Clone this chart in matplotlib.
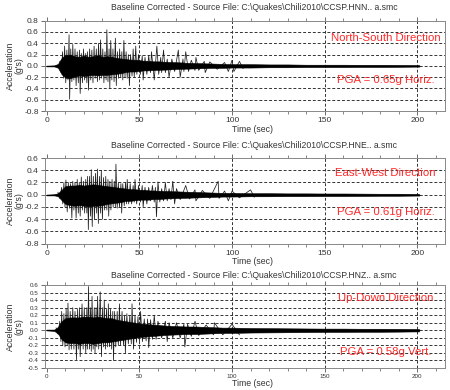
import matplotlib
matplotlib.use("Agg")
import matplotlib.pyplot as plt
import numpy as np

plt.rcParams['font.family'] = ['Liberation Sans', 'DejaVu Sans']

# ---------------- data ----------------
titles = [
    r"Baseline Corrected - Source File: C:\Quakes\Chili2010\CCSP.HNN.. a.smc",
    r"Baseline Corrected - Source File: C:\Quakes\Chili2010\CCSP.HNE.. a.smc",
    r"Baseline Corrected - Source File: C:\Quakes\Chili2010\CCSP.HNZ.. a.smc",
]
directions = ["North-South Direction", "East-West Direction", "Up-Down Direction"]
pga_labels = ["PGA = 0.65g Horiz.", "PGA = 0.61g Horiz.", "PGA = 0.58g Vert."]

# dense-core envelope sample times (s)
t_env = [0, 2, 4, 6, 8, 10, 12.5, 15, 17.5, 20, 22.5, 25, 27.5, 30, 32.5, 35, 37.5,
         40, 42.5, 45, 47.5, 50, 52.5, 55, 57.5, 60, 65, 70, 75, 80, 85, 90, 95,
         100, 110, 120, 130, 140, 150, 160, 170, 180, 190, 201]

# North-South: dense core (upper / lower) and individual peaks (time, g)
ns_upper = [0, 0.004, 0.008, 0.035, 0.14, 0.19, 0.2, 0.17, 0.16, 0.18, 0.16, 0.17, 0.19,
            0.16, 0.17, 0.16, 0.14, 0.13, 0.12, 0.11, 0.11, 0.1, 0.09, 0.09, 0.08, 0.08,
            0.07, 0.065, 0.055, 0.05, 0.045, 0.04, 0.035, 0.03, 0.03, 0.025, 0.025, 0.02,
            0.02, 0.02, 0.018, 0.018, 0.016, 0.012]
ns_lower = [0, -0.004, -0.008, -0.035, -0.15, -0.21, -0.22, -0.19, -0.17, -0.18, -0.17,
            -0.16, -0.17, -0.16, -0.16, -0.15, -0.14, -0.13, -0.11, -0.1, -0.1, -0.09,
            -0.08, -0.08, -0.075, -0.07, -0.065, -0.055, -0.05, -0.045, -0.04, -0.035,
            -0.035, -0.03, -0.03, -0.025, -0.025, -0.02, -0.02, -0.02, -0.018, -0.018,
            -0.016, -0.012]
ns_peaks = [(7, 0.08), (7.8, -0.12), (8.5, 0.25), (9, -0.22), (9.6, 0.35), (10.2, -0.3),
            (10.8, 0.28), (11.4, -0.25), (12, 0.55), (12.3, -0.59), (12.9, 0.3),
            (13.5, -0.28), (14, 0.38), (14.6, -0.25), (15.2, 0.3), (15.8, -0.35),
            (16.4, 0.25), (17, -0.3), (17.6, 0.28), (18, -0.49), (18.6, 0.22),
            (19.2, -0.3), (19.8, 0.3), (20.4, -0.25), (21, 0.22), (21.6, -0.3),
            (22, 0.25), (22.5, -0.43), (23.1, 0.3), (23.7, -0.25), (24.3, 0.28),
            (24.9, -0.3), (25.5, 0.35), (26.1, -0.22), (26.7, 0.3), (27.3, -0.28),
            (27.9, 0.4), (28.5, -0.25), (29, 0.46), (29.6, -0.22), (30.2, 0.3),
            (30.8, -0.3), (31.4, 0.25), (32, -0.25), (32.4, 0.64), (33, -0.28),
            (33.6, 0.3), (34, -0.4), (34.5, 0.45), (35.1, -0.25), (35.7, 0.3),
            (36.3, -0.28), (37, 0.49), (37.5, -0.35), (38.1, 0.25), (38.7, -0.22),
            (39.3, 0.3), (39.9, -0.2), (40.5, 0.25), (41, -0.25), (41.6, 0.45),
            (42.2, -0.2), (42.8, 0.25), (43.4, -0.22), (44, 0.2), (44.6, -0.35),
            (45.2, 0.2), (46, -0.18), (46.6, 0.3), (47.2, -0.2), (48, 0.35),
            (48.6, -0.15), (49.5, 0.2), (50.5, -0.15), (51.5, 0.18), (52, -0.25),
            (53, 0.15), (54, -0.15), (55, 0.18), (56, -0.12), (56.5, 0.25), (58, -0.25),
            (59.4, 0.35), (60.4, -0.15), (61.5, 0.15), (62, -0.12), (63, 0.28),
            (64, -0.12), (65, 0.12), (66, -0.2), (67.5, 0.12), (69, -0.1), (71, 0.28),
            (72, -0.2), (73.5, 0.12), (74, -0.1), (75, 0.25), (76.5, -0.1), (78, 0.1),
            (80, -0.08), (80.5, 0.15), (82, -0.08), (85, 0.08), (85.5, -0.12),
            (88, 0.07), (92, -0.06), (96, 0.06), (98, -0.1), (100, 0.1), (101, -0.1),
            (104, 0.08), (106, -0.05)]

# East-West
ew_upper = [0, 0.004, 0.008, 0.025, 0.08, 0.14, 0.15, 0.15, 0.16, 0.15, 0.16, 0.17, 0.16,
            0.15, 0.14, 0.13, 0.12, 0.11, 0.1, 0.09, 0.09, 0.08, 0.08, 0.07, 0.07, 0.065,
            0.06, 0.055, 0.05, 0.045, 0.04, 0.035, 0.03, 0.03, 0.025, 0.025, 0.022,
            0.022, 0.02, 0.02, 0.018, 0.016, 0.016, 0.012]
ew_lower = [0, -0.004, -0.008, -0.025, -0.09, -0.15, -0.17, -0.18, -0.17, -0.18, -0.19,
            -0.18, -0.18, -0.17, -0.15, -0.14, -0.13, -0.12, -0.1, -0.1, -0.09, -0.08,
            -0.08, -0.08, -0.07, -0.07, -0.06, -0.055, -0.05, -0.045, -0.04, -0.035,
            -0.03, -0.03, -0.025, -0.025, -0.022, -0.022, -0.02, -0.02, -0.018, -0.016,
            -0.016, -0.012]
ew_peaks = [(6, 0.04), (7, -0.06), (8, 0.12), (8.6, -0.15), (9.2, 0.2), (9.8, -0.2),
            (10.3, 0.24), (11, -0.28), (11.6, 0.2), (12.2, -0.22), (12.8, 0.18),
            (13.5, -0.38), (14, 0.22), (14.6, -0.25), (15.2, 0.2), (15.8, -0.38),
            (16.4, 0.25), (17, -0.3), (17.5, 0.2), (18, -0.35), (18.6, 0.29),
            (19.2, -0.25), (19.8, 0.22), (20.4, -0.3), (21, 0.25), (21.6, -0.3),
            (22, 0.3), (22.4, -0.57), (23, 0.3), (23.6, -0.35), (24, 0.41),
            (24.5, -0.52), (25.1, 0.3), (25.7, -0.4), (26.3, 0.35), (26.9, -0.3),
            (27.3, 0.42), (27.8, -0.47), (28.4, 0.3), (29, -0.3), (29.4, 0.4),
            (30, -0.4), (30.6, 0.28), (31.2, -0.25), (31.8, 0.3), (32.4, -0.25),
            (33, 0.25), (33.4, -0.35), (34, 0.22), (34.6, -0.25), (35.2, 0.25),
            (35.8, -0.2), (36.4, 0.22), (37, -0.2), (37.3, 0.5), (38, -0.22),
            (38.6, 0.2), (39.2, -0.2), (40, 0.18), (40.4, -0.3), (41, 0.18),
            (41.8, -0.18), (42.5, 0.2), (43, -0.15), (43.4, 0.25), (44.2, -0.15),
            (45, 0.18), (45.8, -0.15), (46.6, 0.15), (47.2, -0.12), (47.6, 0.25),
            (48.5, -0.15), (49.5, 0.15), (50.5, -0.12), (51.5, 0.15), (52, -0.2),
            (53, 0.12), (54, -0.15), (55, 0.12), (56, -0.1), (57, 0.15), (58, -0.12),
            (58.6, 0.12), (59.2, -0.36), (60, 0.21), (61, -0.12), (62, 0.1),
            (63, -0.1), (64, 0.2), (65, -0.1), (66, 0.1), (67, -0.08), (68, 0.22),
            (69, -0.15), (70, 0.1), (72, -0.08), (75, 0.15), (77, -0.07), (80, 0.08),
            (80.5, -0.1), (84, 0.07), (88, -0.06), (92.5, 0.22), (93, -0.06),
            (96, 0.06), (98, -0.1), (100, 0.06), (104, -0.05), (110, 0.08),
            (112, -0.04)]

# Up-Down
ud_upper = [0, 0.004, 0.008, 0.045, 0.12, 0.16, 0.17, 0.17, 0.17, 0.18, 0.18, 0.17, 0.18,
            0.17, 0.16, 0.16, 0.14, 0.13, 0.12, 0.11, 0.1, 0.09, 0.085, 0.08, 0.075,
            0.07, 0.06, 0.055, 0.05, 0.05, 0.045, 0.04, 0.035, 0.035, 0.03, 0.028,
            0.026, 0.024, 0.022, 0.022, 0.02, 0.02, 0.018, 0.015]
ud_lower = [0, -0.004, -0.008, -0.045, -0.12, -0.16, -0.17, -0.17, -0.18, -0.17, -0.17,
            -0.18, -0.17, -0.16, -0.16, -0.15, -0.14, -0.13, -0.12, -0.11, -0.1, -0.09,
            -0.085, -0.08, -0.075, -0.07, -0.06, -0.055, -0.05, -0.05, -0.045, -0.04,
            -0.035, -0.035, -0.03, -0.028, -0.026, -0.024, -0.022, -0.022, -0.02, -0.02,
            -0.018, -0.015]
ud_peaks = [(5, 0.03), (6, -0.05), (7, 0.12), (7.6, -0.15), (8, 0.25), (8.6, -0.2),
            (9.2, 0.22), (9.8, -0.22), (10.4, 0.28), (11, -0.2), (11.4, 0.36),
            (12, -0.26), (12.6, 0.25), (13.2, -0.25), (14, 0.3), (14.6, -0.25),
            (15.2, 0.25), (16, -0.39), (16.6, 0.28), (17.2, -0.25), (17.6, 0.3),
            (18, -0.35), (19, 0.35), (19.6, -0.25), (20.2, 0.3), (21, -0.3),
            (21.6, 0.3), (22, -0.25), (22.5, 0.58), (23, -0.25), (23.6, 0.3),
            (24, -0.28), (24.4, 0.45), (25, -0.25), (25.6, 0.3), (26, -0.3),
            (26.6, 0.3), (27, -0.22), (27.4, 0.45), (28, -0.25), (28.8, 0.51),
            (29.5, -0.35), (30, 0.3), (30.6, -0.22), (31, 0.4), (31.6, -0.25),
            (32.2, 0.28), (32.8, -0.22), (33.2, 0.35), (33.8, -0.22), (34.4, 0.28),
            (35, -0.25), (35.6, 0.25), (36, -0.4), (36.6, 0.25), (37.2, -0.22),
            (38, 0.25), (38.6, -0.2), (39.2, 0.35), (39.8, -0.2), (40.6, 0.25),
            (41.4, -0.2), (42, 0.2), (42.4, -0.3), (43.2, 0.22), (44, -0.18),
            (44.8, 0.2), (45.6, -0.18), (46, 0.35), (46.8, -0.25), (47.6, 0.2),
            (48.4, -0.16), (49.2, 0.18), (50, -0.15), (50.6, 0.25), (51.6, -0.15),
            (52.6, 0.15), (53.6, -0.14), (54.4, 0.15), (55, -0.23), (56, 0.14),
            (57, -0.12), (58, 0.2), (59, -0.12), (60, 0.12), (62, -0.1), (64, 0.12),
            (65, -0.15), (66, 0.1), (68, -0.1), (70, 0.1), (72, -0.1), (74, 0.08),
            (74.5, -0.22), (76, 0.08), (78, -0.08), (80, 0.12), (82, -0.07),
            (86, 0.07), (90, -0.06), (90.5, 0.1), (95, -0.06), (100, 0.08),
            (104, -0.06)]

x_major = [0, 50, 100, 150, 200]
y_ticks = [
    [0.8, 0.6, 0.4, 0.2, 0.0, -0.2, -0.4, -0.6, -0.8],
    [0.6, 0.4, 0.2, 0.0, -0.2, -0.4, -0.6, -0.8],
    [0.6, 0.5, 0.4, 0.3, 0.2, 0.1, 0.0, -0.1, -0.2, -0.3, -0.4, -0.5],
]

panels = [
    (ns_upper, ns_lower, ns_peaks),
    (ew_upper, ew_lower, ew_peaks),
    (ud_upper, ud_lower, ud_peaks),
]

# ---------------- layout ----------------
fig = plt.figure(figsize=(4.5, 3.9), dpi=100)
W, H = 450, 390
boxes = [(45, 20.7, 445, 111), (45, 158, 445, 243.7), (45, 285, 445, 368)]
title_y = [8, 145, 275]
xlabel_y = [129, 262, 384]
dir_y = [38, 173, 298]
pga_y = [80, 212, 352]
tick_fs = [6.0, 6.0, 4.5]

red = '#ff2a2a'
grid_col = '#333333'

for i, (up, lo, peaks) in enumerate(panels):
    x0, y0, x1, y1 = boxes[i]
    ax = fig.add_axes([x0 / W, 1 - y1 / H, (x1 - x0) / W, (y1 - y0) / H])
    yt = y_ticks[i]
    ax.set_xlim(-1, 215)
    ax.set_ylim(min(yt), max(yt))

    # grid
    for xv in x_major[1:]:
        ax.axvline(xv, color=grid_col, lw=0.7, ls=(0, (3, 2)), zorder=1)
    for yv in yt[1:-1]:
        ax.axhline(yv, color=grid_col, lw=0.7, ls=(0, (3, 2)), zorder=1)

    # waveform: individual peaks as a zig-zag trace plus the dense core
    pt = [p[0] for p in peaks]
    pv = [p[1] for p in peaks]
    ax.plot(pt, pv, color='#1e1e1e', lw=0.55, zorder=2)
    ax.fill_between(t_env, lo, up, color='black', lw=0.4, zorder=3)
    ax.plot(t_env, np.zeros(len(t_env)), color='black', lw=1.0, zorder=3)

    ax.set_xticks(x_major)
    ax.set_xticks(np.arange(0, 215, 10), minor=True)
    ax.set_yticks(yt)
    ax.set_yticklabels([f"{v:.1f}" for v in yt])
    ax.tick_params(axis='both', labelsize=tick_fs[i], colors='#555555',
                   labelcolor='#333333', length=3, width=0.6, pad=1.5)
    ax.tick_params(axis='x', which='minor', length=2, width=0.5, colors='#555555',
                   top=True)
    ax.tick_params(axis='x', which='major', top=True)
    for s in ax.spines.values():
        s.set_color('#888888')
        s.set_linewidth(0.7)

    fig.text(254 / W, 1 - title_y[i] / H, titles[i], ha='center', va='center',
             fontsize=6.2, color='#333333')
    fig.text(253 / W, 1 - xlabel_y[i] / H, "Time (sec)", ha='center', va='center',
             fontsize=6.3, color='#333333')
    fig.text(15 / W, 1 - ((y0 + y1) / 2) / H, "Acceleration\n(g's)", ha='center',
             va='center', rotation=90, fontsize=6.3, color='#333333', linespacing=1.0)
    ax.text(183, yt[0] - (yt[0] - yt[-1]) * ((dir_y[i] - y0) / (y1 - y0)),
            directions[i], color=red, fontsize=8.2, ha='center', va='center', zorder=5)
    ax.text(183, yt[0] - (yt[0] - yt[-1]) * ((pga_y[i] - y0) / (y1 - y0)),
            pga_labels[i], color=red, fontsize=8.2, ha='center', va='center', zorder=5)

fig.savefig("out.png", dpi=100)
